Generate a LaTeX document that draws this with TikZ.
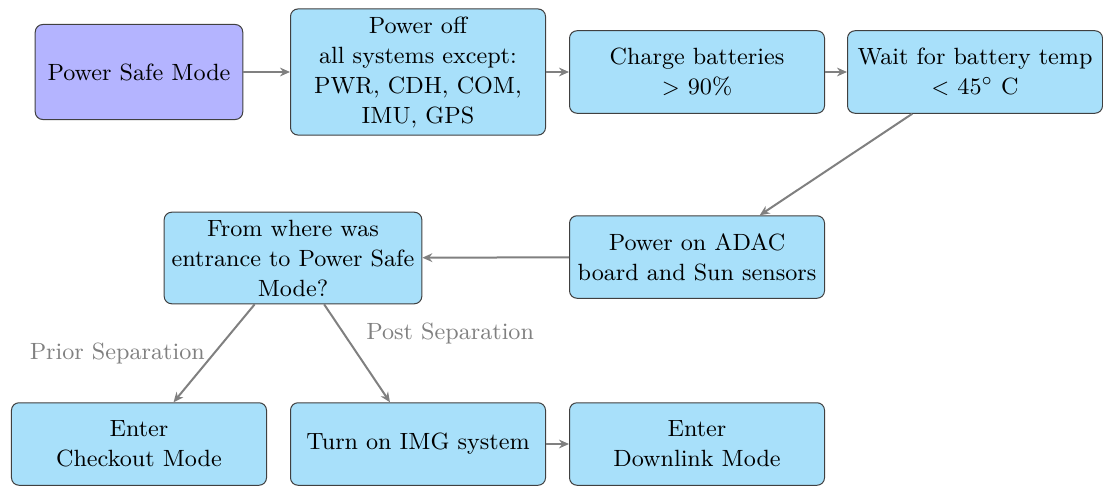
\documentclass[tikz,border=0pt]{standalone}
\usetikzlibrary{arrows.meta}
\definecolor{boxblue}{RGB}{168,224,250}
\definecolor{safeblue}{RGB}{180,180,255}
\begin{document}
\begin{tikzpicture}[x=0.4pt,y=-0.4pt,
  every node/.style={font=\fontsize{9.4}{12}\selectfont},
  box/.style={draw=black!75, fill=boxblue, rounded corners=3pt, align=center,
    minimum width=102pt, minimum height=33pt, inner sep=3pt},
  safebox/.style={box, fill=safeblue, minimum width=83pt, minimum height=38pt},
  conn/.style={draw=gray, thick, -{Stealth[length=4pt,width=3.5pt]}},
  lbl/.style={text=gray}
]
\useasboundingbox (0,0) rectangle (1103,486);
\node[safebox] (psm) at (139,72) {Power Safe Mode};
\node[box] (off) at (418,72) {Power off\\ all systems except:\\ PWR, CDH, COM,\\ IMU, GPS};
\node[box] (charge) at (697,72) {Charge batteries\\ $>$ 90\%};
\node[box] (wait) at (975,72) {Wait for battery temp\\ $<$ 45$^\circ$ C};
\node[box] (adac) at (697,257) {Power on ADAC\\ board and Sun sensors};
\node[box] (from) at (293,258) {From where was\\ entrance to Power Safe\\ Mode?};
\node[box] (check) at (139,444) {Enter\\ Checkout Mode};
\node[box] (img) at (418,444) {Turn on IMG system};
\node[box] (down) at (697,444) {Enter\\ Downlink Mode};
\draw[conn] (psm) -- (off);
\draw[conn] (off) -- (charge);
\draw[conn] (charge) -- (wait);
\draw[conn] (wait) -- (adac);
\draw[conn] (adac) -- (from);
\draw[conn] (from) -- node[lbl, left] {Prior Separation} (check);
\draw[conn] (from) -- node[lbl, above right] {Post Separation} (img);
\draw[conn] (img) -- (down);
\end{tikzpicture}
\end{document}
